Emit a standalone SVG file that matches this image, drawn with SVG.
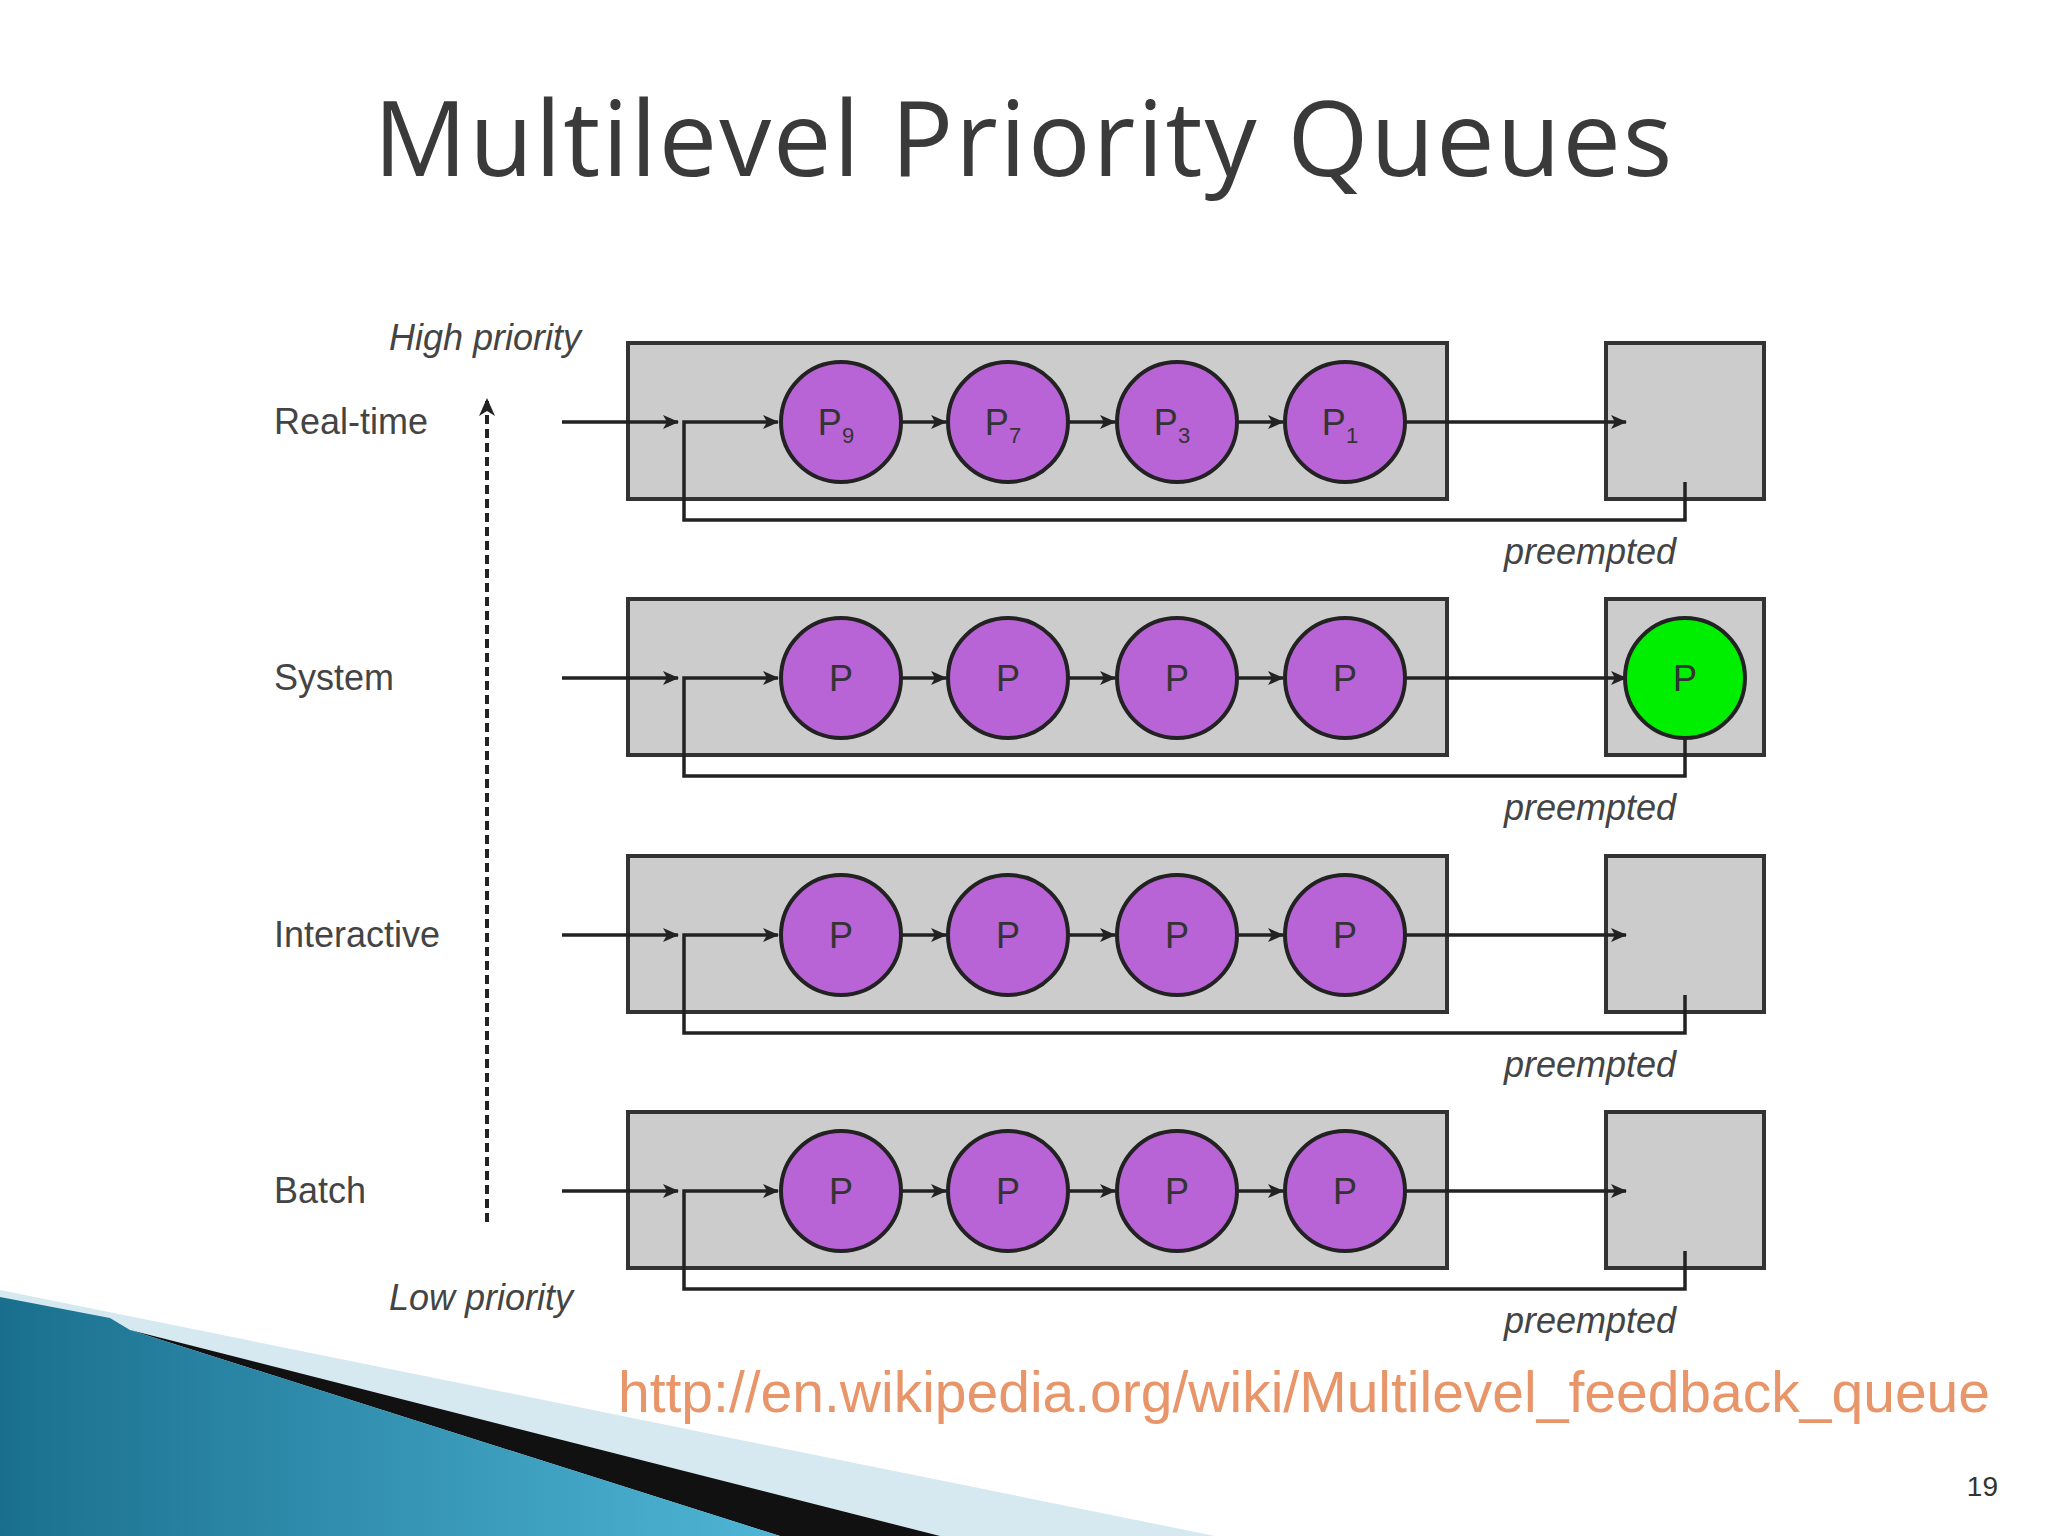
<svg xmlns="http://www.w3.org/2000/svg" width="2048" height="1536" viewBox="0 0 2048 1536">
<defs>
<marker id="ah" markerWidth="16" markerHeight="14" refX="15" refY="7" orient="auto" markerUnits="userSpaceOnUse"><path d="M0,0 L16,7 L0,14 L4,7 Z" fill="#222"/></marker>
<marker id="ah2" markerWidth="20" markerHeight="16" refX="18" refY="8" orient="auto" markerUnits="userSpaceOnUse"><path d="M0,0 L18,8 L0,16 L5,8 Z" fill="#222"/></marker>
<linearGradient id="teal" x1="0" y1="0" x2="1" y2="0"><stop offset="0" stop-color="#1a6f8e"/><stop offset="1" stop-color="#4fb6d6"/></linearGradient>
<style>
.box{fill:#cccccc;stroke:#333;stroke-width:4}
.c{fill:#b863d6;stroke:#222;stroke-width:4}
.g{fill:#00ee00;stroke:#222;stroke-width:4}
.ln{fill:none;stroke:#222;stroke-width:3.5}
.lab{font-family:"Liberation Sans",Arial,sans-serif;font-size:36px;fill:#444}
.it{font-family:"Liberation Sans",Arial,sans-serif;font-size:36px;fill:#444;font-style:italic}
.pt{font-family:"Liberation Sans",Arial,sans-serif;font-size:36px;fill:#333;text-anchor:middle}
</style>
</defs>
<rect width="2048" height="1536" fill="#fff"/>
<text x="1024" y="176" text-anchor="middle" font-family="'Open Sans','DejaVu Sans',sans-serif" font-size="104" letter-spacing="2" fill="#3a3a3a">Multilevel Priority Queues</text>

<g id="axis">
<line x1="487" y1="1222" x2="487" y2="398" stroke="#222" stroke-width="4" stroke-dasharray="9,5" marker-end="url(#ah2)"/>
<text class="it" x="389" y="350">High priority</text>
<text class="it" x="389" y="1310">Low priority</text>
</g>

<g id="row1">
<text class="lab" x="274" y="434">Real-time</text>
<rect class="box" x="628" y="343" width="819" height="156"/>
<rect class="box" x="1606" y="343" width="158" height="156"/>
<circle class="c" cx="841" cy="422" r="60"/><circle class="c" cx="1008" cy="422" r="60"/><circle class="c" cx="1177" cy="422" r="60"/><circle class="c" cx="1345" cy="422" r="60"/>
<text class="pt" x="836" y="435">P<tspan font-size="22" dy="8">9</tspan></text>
<text class="pt" x="1003" y="435">P<tspan font-size="22" dy="8">7</tspan></text>
<text class="pt" x="1172" y="435">P<tspan font-size="22" dy="8">3</tspan></text>
<text class="pt" x="1340" y="435">P<tspan font-size="22" dy="8">1</tspan></text>
<text class="it" x="1504" y="564">preempted</text>
</g>
<g id="row2">
<text class="lab" x="274" y="690">System</text>
<rect class="box" x="628" y="599" width="819" height="156"/>
<rect class="box" x="1606" y="599" width="158" height="156"/>
<circle class="c" cx="841" cy="678" r="60"/><circle class="c" cx="1008" cy="678" r="60"/><circle class="c" cx="1177" cy="678" r="60"/><circle class="c" cx="1345" cy="678" r="60"/>
<circle class="g" cx="1685" cy="678" r="60"/>
<text class="pt" x="841" y="691">P</text><text class="pt" x="1008" y="691">P</text><text class="pt" x="1177" y="691">P</text><text class="pt" x="1345" y="691">P</text><text class="pt" x="1685" y="691">P</text>
<text class="it" x="1504" y="820">preempted</text>
</g>
<g id="row3">
<text class="lab" x="274" y="947">Interactive</text>
<rect class="box" x="628" y="856" width="819" height="156"/>
<rect class="box" x="1606" y="856" width="158" height="156"/>
<circle class="c" cx="841" cy="935" r="60"/><circle class="c" cx="1008" cy="935" r="60"/><circle class="c" cx="1177" cy="935" r="60"/><circle class="c" cx="1345" cy="935" r="60"/>
<text class="pt" x="841" y="948">P</text><text class="pt" x="1008" y="948">P</text><text class="pt" x="1177" y="948">P</text><text class="pt" x="1345" y="948">P</text>
<text class="it" x="1504" y="1077">preempted</text>
</g>
<g id="row4">
<text class="lab" x="274" y="1203">Batch</text>
<rect class="box" x="628" y="1112" width="819" height="156"/>
<rect class="box" x="1606" y="1112" width="158" height="156"/>
<circle class="c" cx="841" cy="1191" r="60"/><circle class="c" cx="1008" cy="1191" r="60"/><circle class="c" cx="1177" cy="1191" r="60"/><circle class="c" cx="1345" cy="1191" r="60"/>
<text class="pt" x="841" y="1204">P</text><text class="pt" x="1008" y="1204">P</text><text class="pt" x="1177" y="1204">P</text><text class="pt" x="1345" y="1204">P</text>
<text class="it" x="1504" y="1333">preempted</text>
</g>

<g id="connectors">
<path class="ln" d="M562,422 H678" marker-end="url(#ah)"/><path class="ln" d="M1685,482 V520 H684 V422 H778" marker-end="url(#ah)"/><path class="ln" d="M901,422 H946" marker-end="url(#ah)"/><path class="ln" d="M1068,422 H1115" marker-end="url(#ah)"/><path class="ln" d="M1237,422 H1283" marker-end="url(#ah)"/><path class="ln" d="M1405,422 H1626" marker-end="url(#ah)"/>
<path class="ln" d="M562,678 H678" marker-end="url(#ah)"/><path class="ln" d="M1685,738 V776 H684 V678 H778" marker-end="url(#ah)"/><path class="ln" d="M901,678 H946" marker-end="url(#ah)"/><path class="ln" d="M1068,678 H1115" marker-end="url(#ah)"/><path class="ln" d="M1237,678 H1283" marker-end="url(#ah)"/><path class="ln" d="M1405,678 H1626" marker-end="url(#ah)"/>
<path class="ln" d="M562,935 H678" marker-end="url(#ah)"/><path class="ln" d="M1685,995 V1033 H684 V935 H778" marker-end="url(#ah)"/><path class="ln" d="M901,935 H946" marker-end="url(#ah)"/><path class="ln" d="M1068,935 H1115" marker-end="url(#ah)"/><path class="ln" d="M1237,935 H1283" marker-end="url(#ah)"/><path class="ln" d="M1405,935 H1626" marker-end="url(#ah)"/>
<path class="ln" d="M562,1191 H678" marker-end="url(#ah)"/><path class="ln" d="M1685,1251 V1289 H684 V1191 H778" marker-end="url(#ah)"/><path class="ln" d="M901,1191 H946" marker-end="url(#ah)"/><path class="ln" d="M1068,1191 H1115" marker-end="url(#ah)"/><path class="ln" d="M1237,1191 H1283" marker-end="url(#ah)"/><path class="ln" d="M1405,1191 H1626" marker-end="url(#ah)"/>
</g>

<g id="decor">
<polygon points="0,1290 1215,1536 0,1536" fill="#d6e8f0"/>
<polygon points="130,1330 940,1536 780,1536" fill="#111"/>
<polygon points="0,1297 110,1318 130,1330 780,1536 0,1536" fill="url(#teal)"/>
</g>
<text x="618" y="1412" font-family="'Liberation Sans',Arial,sans-serif" font-size="57" fill="#e8956a">http://en.wikipedia.org/wiki/Multilevel_feedback_queue</text>
<text x="1998" y="1496" text-anchor="end" font-family="'Liberation Sans',Arial,sans-serif" font-size="28" fill="#333">19</text>
</svg>
